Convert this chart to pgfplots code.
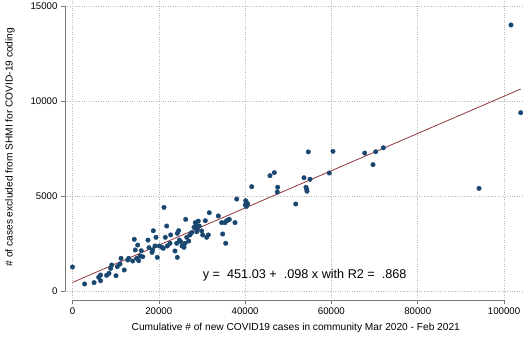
\documentclass[border=0pt]{standalone}
\usepackage{fontspec}
\setmainfont{Liberation Sans}
\usepackage{pgfplots}
\usepackage{pgfplotstable}
\pgfplotsset{compat=1.18}
\definecolor{stnavy}{RGB}{26,71,111}
\definecolor{stmaroon}{RGB}{144,53,59}
\definecolor{gridc}{RGB}{185,185,185}
\definecolor{axc}{RGB}{120,120,120}

\pgfplotstableread{
x y
0 1263
2800 370
5000 440
6070 720
6500 540
6500 840
7900 825
8460 930
8850 1190
9080 1370
10080 805
10380 1280
11010 1420
11240 1720
12000 1105
12790 1630
13020 1720
13950 1580
14320 2720
14550 2160
14880 1720
15110 2420
15340 1595
15640 1840
15940 2120
16270 1805
17500 2680
17730 2280
18420 2035
18580 2160
18730 3170
19120 2370
19350 2825
19650 1770
20110 2370
20740 2300
21040 2245
21200 4400
21510 2825
21830 3420
21970 2370
22600 2510
22760 2950
23750 2105
24150 2510
24290 1770
24290 3035
24600 3175
24750 2680
25070 2600
25380 2370
25840 2300
26070 2510
26230 3770
26470 2825
26930 2630
27230 2950
27620 3070
28160 3350
28460 3600
28620 3470
28780 3120
28920 3245
29150 3680
29380 3420
29940 3160
30170 2950
30780 3700
31100 2825
31470 2950
31700 4120
33790 3950
34570 3600
34800 3000
35340 3600
35500 2510
35730 3700
36110 3740
36340 3770
37660 3600
38050 4840
40050 4525
40130 4750
40300 4450
40370 4650
40600 4580
41530 5490
45770 6070
46770 6230
47550 5460
47460 5210
51730 4580
53650 5960
54110 5460
54280 5350
54350 5250
54650 7320
55040 5880
59510 6210
60370 7350
67720 7260
69640 6650
70260 7330
72030 7540
94210 5400
101620 14000
103870 9385
}\pts

\begin{document}
\begin{tikzpicture}
\begin{axis}[
  scale only axis,
  width=458.04bp, height=300bp,
  xmin=-1750, xmax=104400, ymin=-474, ymax=15316,
  axis x line*=bottom, axis y line*=left,
  axis line style={draw=none},
  xtick={0,20000,40000,60000,80000,100000},
  xticklabels={0,20000,40000,60000,80000,100000},
  ytick={0,5000,10000,15000},
  yticklabels={0,5000,10000,15000},
  tick align=outside, major tick length=4bp,
  tick style={axc, line width=0.6pt},
  grid=major, grid style={gridc, dotted, line width=0.6pt},
  scaled ticks=false,
  ticklabel style={font=\fontsize{9.7}{11}\selectfont},
  label style={font=\fontsize{10.2}{12}\selectfont},
  xlabel={Cumulative \# of new COVID19 cases in community Mar 2020 - Feb 2021},
  ylabel={\# of cases excluded from SHMI for COVID-19 coding},
  xlabel style={at={(axis cs:51750,-2053)}, anchor=base},
  ylabel style={at={(axis cs:-14484,7580)}, anchor=center},
  clip=false,
]
\addplot[only marks, mark=*, mark size=2.3bp,
  mark options={draw=stnavy, fill=stnavy, line width=0.3pt}] table[x=x,y=y] {\pts};
\addplot[stmaroon, line width=0.8pt] coordinates {(0,451.03) (103870,10630.3)};
\draw[axc, line width=0.6pt] (axis cs:0,-474) -- (axis cs:100000,-474);
\draw[axc, line width=0.6pt] (axis cs:-1750,0) -- (axis cs:-1750,15000);
\node[font=\fontsize{12.7}{14}\selectfont, anchor=base west, inner sep=0pt]
  at (axis cs:30174,668) {y = \ 451.03 + \ .098 x with R2 = \ .868};
\coordinate (BL) at (axis cs:-16802,-2632);
\coordinate (TR) at (axis cs:104403,15316);
\end{axis}
\pgfresetboundingbox
\path[use as bounding box] (BL) rectangle (TR);
\end{tikzpicture}
\end{document}
